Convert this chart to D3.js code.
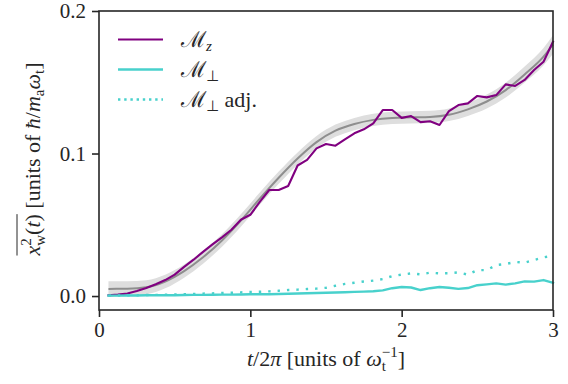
<!DOCTYPE html>
<html lang="en">
<head>
<meta charset="UTF-8">
<title>Mean square width</title>
<script src="https://d3js.org/d3.v7.min.js"></script>
<style>
    body { margin: 0; background: #fff; }
    svg { display: block; }
</style>
</head>
<body>
<div id="chart"></div>
<script>

// time grid (t / 2pi)
var times = [0.0625, 0.125, 0.1875, 0.25, 0.3125, 0.375, 0.4375, 0.5, 0.5625, 0.625, 0.6875, 0.75,
             0.8125, 0.875, 0.9375, 1.0, 1.0625, 1.125, 1.1875, 1.25, 1.3125, 1.375, 1.4375, 1.5,
             1.5625, 1.625, 1.6875, 1.75, 1.8125, 1.875, 1.9375, 2.0, 2.0625, 2.125, 2.1875, 2.25,
             2.3125, 2.375, 2.4375, 2.5, 2.5625, 2.625, 2.6875, 2.75, 2.8125, 2.875, 2.9375, 3.0];

var mzValues = [0.0005, 0.0010, 0.0018, 0.0035, 0.0057, 0.0083, 0.0112, 0.0150, 0.0205, 0.0255, 0.0310, 0.0362,
                0.0412, 0.0465, 0.0535, 0.0570, 0.0660, 0.0744, 0.0744, 0.0772, 0.0916, 0.0955, 0.1036, 0.1067,
                0.1055, 0.1100, 0.1142, 0.1170, 0.1212, 0.1305, 0.1305, 0.1250, 0.1263, 0.1220, 0.1226, 0.1200,
                0.1298, 0.1340, 0.1352, 0.1404, 0.1394, 0.1410, 0.1485, 0.1474, 0.1516, 0.1586, 0.1644, 0.1785];

var mperpValues = [0.0003, 0.0003, 0.0004, 0.0004, 0.0005, 0.0005, 0.0006, 0.0006, 0.0007, 0.0008, 0.0008, 0.0009,
                   0.0010, 0.0010, 0.0011, 0.0012, 0.0012, 0.0013, 0.0014, 0.0016, 0.0018, 0.0020, 0.0021, 0.0023,
                   0.0025, 0.0027, 0.0029, 0.0031, 0.0034, 0.0040, 0.0055, 0.0063, 0.0060, 0.0042, 0.0055, 0.0063,
                   0.0058, 0.0050, 0.0056, 0.0076, 0.0082, 0.0089, 0.0080, 0.0089, 0.0103, 0.0101, 0.0112, 0.0093];

var mperpAdjValues = [0.0003, 0.0004, 0.0005, 0.0006, 0.0007, 0.0008, 0.0010, 0.0011, 0.0013, 0.0015, 0.0017, 0.0019,
                      0.0021, 0.0023, 0.0026, 0.0028, 0.0030, 0.0033, 0.0037, 0.0042, 0.0045, 0.0049, 0.0052, 0.0058,
                      0.0072, 0.0085, 0.0093, 0.0102, 0.0108, 0.0119, 0.0140, 0.0150, 0.0159, 0.0152, 0.0164, 0.0159,
                      0.0160, 0.0166, 0.0150, 0.0182, 0.0182, 0.0218, 0.0225, 0.0239, 0.0234, 0.0253, 0.0271, 0.0283];

// fitted curve and its uncertainty band
var fitTimes = [0.0625, 0.1875, 0.3125, 0.4375, 0.5625, 0.6875, 0.8125, 0.9375, 1.0625, 1.1875, 1.3125, 1.4375, 1.5625,
                1.6875, 1.8125, 1.9375, 2.0625, 2.1875, 2.3125, 2.4375, 2.5625, 2.6875, 2.8125, 2.9375, 3.0];
var fitValues = [0.0050, 0.0051, 0.0061, 0.0102, 0.0175, 0.0272, 0.0390, 0.0530, 0.0683, 0.0830, 0.0965, 0.1080, 0.1160,
                 0.1207, 0.1236, 0.1250, 0.1254, 0.1257, 0.1272, 0.1310, 0.1365, 0.1445, 0.1555, 0.1680, 0.1765];
var fitErrors = [0.0053, 0.0052, 0.0050, 0.0048, 0.0046, 0.0045, 0.0044, 0.0043, 0.0043, 0.0043, 0.0043, 0.0043, 0.0043,
                 0.0043, 0.0043, 0.0043, 0.0043, 0.0043, 0.0044, 0.0046, 0.0049, 0.0052, 0.0056, 0.0061, 0.0065];

var xTicks = [0, 1, 2, 3];
var yTicks = [0.0, 0.1, 0.2];

var w = 568, h = 384;
var m = {top: 11, left: 99, right: 15, bottom: 74};

var purple = '#800080', cyan = '#48d1cc', ink = '#262626';
var serifFont = '"Tinos"';
var k = 1.5; // text is set small and scaled up so the serif face gets picked

var svg = d3.select('#chart').append('svg')
    .attr('width', w)
    .attr('height', h);

var x = d3.scaleLinear().domain([0, 3]).range([m.left, w - m.right]);
var y = d3.scaleLinear().domain([-0.0098, 0.2]).range([h - m.bottom, m.top]);

var fitData = fitTimes.map(function(t, i) { return {t: t, v: fitValues[i], e: fitErrors[i]}; });
var series = [
    {vals: mzValues, color: purple, width: 2.1, dash: null},
    {vals: mperpValues, color: cyan, width: 2.4, dash: null},
    {vals: mperpAdjValues, color: cyan, width: 2.4, dash: '2.4,7'}
];

// band
svg.append('path')
    .datum(fitData)
    .attr('fill', '#dedede')
    .attr('d', d3.area()
        .curve(d3.curveMonotoneX)
        .x(function(d) { return x(d.t); })
        .y0(function(d) { return y(d.v - d.e); })
        .y1(function(d) { return y(d.v + d.e); }));

svg.append('path')
    .datum(fitData)
    .attr('fill', 'none')
    .attr('stroke', '#8e8e8e')
    .attr('stroke-width', 2)
    .attr('d', d3.line()
        .curve(d3.curveMonotoneX)
        .x(function(d) { return x(d.t); })
        .y(function(d) { return y(d.v); }));

var line = d3.line()
    .x(function(d, i) { return x(times[i]); })
    .y(function(d) { return y(d); });

series.forEach(function(s) {
    svg.append('path')
        .datum(s.vals)
        .attr('fill', 'none')
        .attr('stroke', s.color)
        .attr('stroke-width', s.width)
        .attr('stroke-linejoin', 'round')
        .attr('stroke-dasharray', s.dash)
        .attr('stroke-linecap', s.dash ? 'butt' : 'square')
        .attr('d', line);
});

// frame
svg.append('rect')
    .attr('x', m.left).attr('y', m.top)
    .attr('width', w - m.right - m.left)
    .attr('height', h - m.bottom - m.top)
    .attr('fill', 'none')
    .attr('stroke', ink)
    .attr('stroke-width', 1.6);

// axes
var xAxis = d3.axisBottom(x).tickValues(xTicks).tickFormat(d3.format('d')).tickSize(7).tickPadding(5);
var yAxis = d3.axisLeft(y).tickValues(yTicks).tickFormat(d3.format('.1f')).tickSize(7).tickPadding(6);

var gx = svg.append('g').attr('transform', 'translate(0,' + (h - m.bottom) + ')').call(xAxis);
var gy = svg.append('g').attr('transform', 'translate(' + m.left + ',0)').call(yAxis);
[gx, gy].forEach(function(g) {
    g.select('.domain').remove();
    g.selectAll('line').attr('stroke', ink).attr('stroke-width', 1.6);
    g.selectAll('text').each(function() {
        var t = d3.select(this);
        if (t.attr('x') !== null) t.attr('x', +t.attr('x') / k);
        if (t.attr('y') !== null) t.attr('y', +t.attr('y') / k);
        t.attr('font-size', 21 / k)
            .attr('transform', 'scale(' + k + ')')
            .attr('fill', ink)
            .style('font-family', serifFont);
    });
});

// rich text helper: lays out pieces one after another (sizes in final px)
function rich(g, parts, baseSize) {
    var inner = g.append('g').attr('transform', 'scale(' + k + ')');
    var cx = 0;
    var stackStart = null, stackMax = 0;
    parts.forEach(function(p) {
        var fs = (p.size || baseSize) / k;
        var el = inner.append('text')
            .attr('x', p.stack === 'second' ? stackStart : cx)
            .attr('y', (p.dy || 0) / k)
            .attr('font-size', fs)
            .attr('fill', ink)
            .attr('xml:space', 'preserve')
            .style('font-family', p.font || serifFont)
            .text(p.t);
        if (p.italic) el.style('font-style', 'italic');
        var len = el.node().getComputedTextLength();
        if (p.stack === 'first') { stackStart = cx; stackMax = len; }
        else if (p.stack === 'second') { cx = stackStart + Math.max(stackMax, len); }
        else { cx += len; }
        p.x0 = (p.stack === 'second' ? stackStart : cx - len) * k;
        p.len = len * k;
    });
    return cx * k;
}

// x label
var xl = svg.append('g');
var xlIn = xl.append('g');
var xlW = rich(xlIn, [
    {t: 't', italic: true},
    {t: '/2'},
    {t: 'π', italic: true},
    {t: '\u00a0[units of\u00a0'},
    {t: 'ω', italic: true},
    {t: '−1', size: 15, dy: -9, stack: 'first'},
    {t: 't', size: 15, dy: 5, stack: 'second'},
    {t: ']'}
], 22);
xl.attr('transform', 'translate(' + ((m.left + w - m.right) / 2 - xlW / 2) + ',366)');

// y label
var yl = svg.append('g');
var ylIn = yl.append('g');
var yParts = [
    {t: 'x', italic: true},
    {t: '2', size: 15, dy: -9, stack: 'first'},
    {t: 'w', size: 15, dy: 5, stack: 'second'},
    {t: '('},
    {t: 't', italic: true},
    {t: ')'},
    {t: '\u00a0[units of\u00a0'},
    {t: 'ħ', italic: true},
    {t: '/'},
    {t: 'm', italic: true},
    {t: 'a', size: 15, dy: 4},
    {t: 'ω', italic: true},
    {t: 't', size: 15, dy: 4},
    {t: ']'}
];
var ylW = rich(ylIn, yParts, 22);
ylIn.append('line')
    .attr('x1', 0).attr('x2', yParts[5].x0 + yParts[5].len)
    .attr('y1', -23).attr('y2', -23)
    .attr('stroke', ink).attr('stroke-width', 1);
ylIn.attr('transform', 'translate(' + (-ylW / 2) + ',0)');
yl.attr('transform', 'translate(40,159) rotate(-90)');

// legend
var legendItems = [
    {sub: 'z', subItalic: true, extra: '', color: purple, dash: null, width: 2.1},
    {sub: '⊥', subItalic: false, extra: '', color: cyan, dash: null, width: 2.4},
    {sub: '⊥', subItalic: false, extra: '\u00a0adj.', color: cyan, dash: '2.4,3.8', width: 2.4}
];
var legend = svg.append('g').attr('id', 'legend');
legendItems.forEach(function(d, i) {
    var cy = 39.5 + i * 30;
    legend.append('line')
        .attr('x1', 118).attr('x2', 163)
        .attr('y1', cy).attr('y2', cy)
        .attr('stroke', d.color)
        .attr('stroke-width', d.width)
        .attr('stroke-dasharray', d.dash);
    var g = legend.append('g').attr('transform', 'translate(181,' + (cy + 7) + ')');
    var parts = [
        {t: 'ℳ', font: '"DejaVu Serif"', size: 22},
        {t: d.sub, size: 15, dy: 4, italic: d.subItalic, font: d.subItalic ? null : '"DejaVu Sans"'}
    ];
    if (d.extra) parts.push({t: d.extra});
    rich(g, parts, 22);
});

</script>
</body>
</html>
